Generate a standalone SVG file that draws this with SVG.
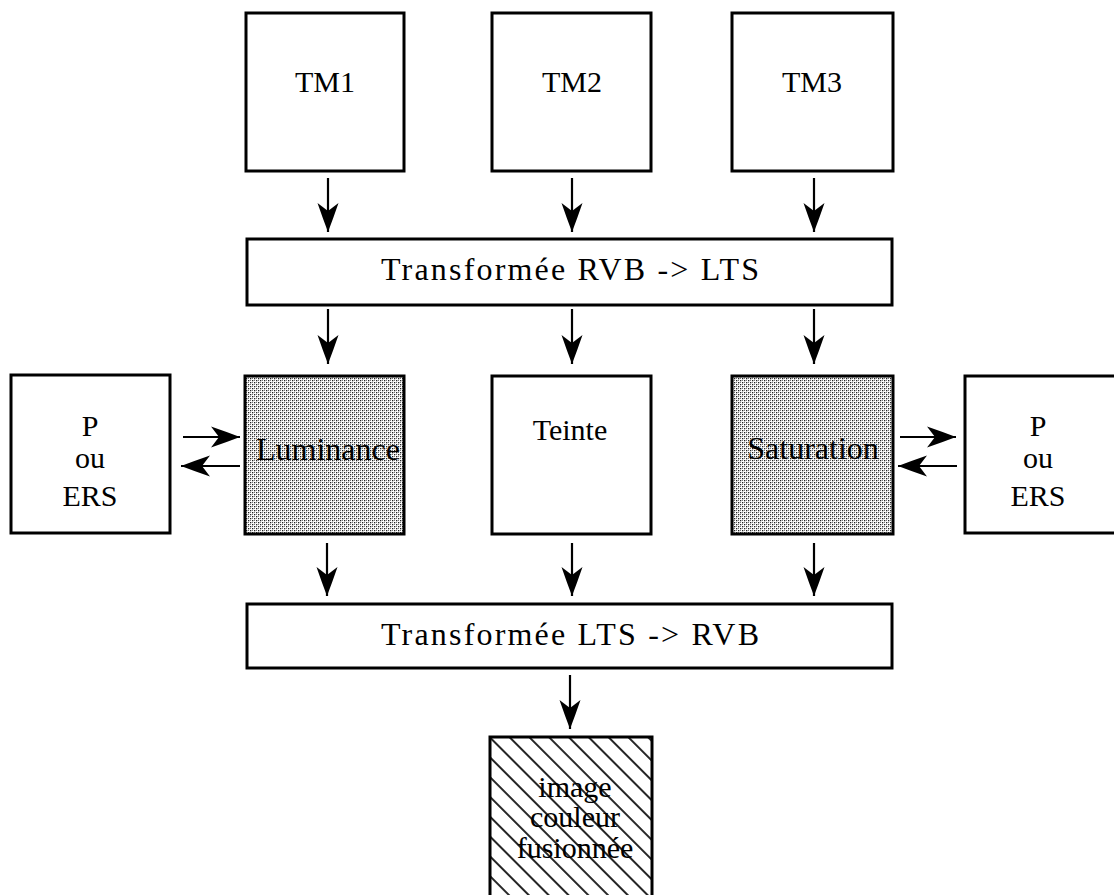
<svg xmlns="http://www.w3.org/2000/svg" width="1114" height="895" viewBox="0 0 1114 895">
<style>
.box{fill:#fff;stroke:#000;stroke-width:3}
.t{font-family:"Liberation Serif","Times New Roman",serif;font-size:30px;fill:#000;text-anchor:middle}
.b{font-size:32px}
.c{stroke:#000;stroke-width:2.2;fill:none}
</style>
<defs>
<pattern id="dots" width="4" height="4" patternUnits="userSpaceOnUse">
<rect width="4" height="4" fill="#fff"/>
<rect x="0" y="0" width="1.3" height="1.3" fill="#222"/>
<rect x="2" y="2" width="1.3" height="1.3" fill="#222"/>
<rect x="2" y="0" width="1" height="1" fill="#777"/>
<rect x="0" y="2" width="1" height="1" fill="#777"/>
</pattern>
<pattern id="hatch" width="14" height="14" patternUnits="userSpaceOnUse" patternTransform="rotate(-45)">
<rect width="14" height="14" fill="#fff"/>
<line x1="7" y1="0" x2="7" y2="14" stroke="#000" stroke-width="1.7"/>
</pattern>
<marker id="ah" markerUnits="userSpaceOnUse" markerWidth="32" markerHeight="24" refX="30" refY="12" orient="auto" viewBox="0 0 32 24">
<path d="M30,12 Q17,7 1,1.5 L9,12 L1,22.5 Q17,17 30,12 Z" fill="#000"/>
</marker>
</defs>
<rect width="1114" height="895" fill="#fff"/>

<g id="tm1"><rect class="box" x="246" y="13" width="158" height="158"/><text class="t" x="325" y="92">TM1</text></g>
<g id="tm2"><rect class="box" x="492" y="13" width="159" height="158"/><text class="t" x="572" y="92">TM2</text></g>
<g id="tm3"><rect class="box" x="732" y="13" width="161" height="158"/><text class="t" x="812" y="92">TM3</text></g>

<g id="rvb2lts"><rect class="box" x="247" y="239" width="645" height="66"/><text class="t b" x="570" y="280" textLength="378" lengthAdjust="spacing">Transformée RVB -&gt; LTS</text></g>

<g id="p1"><rect class="box" x="11" y="375" width="159" height="158"/><text class="t" x="90" y="436">P</text><text class="t" x="90" y="468">ou</text><text class="t" x="90" y="506">ERS</text></g>
<g id="luminance"><rect class="box" x="245" y="376" width="159" height="158" style="fill:url(#dots)"/><text class="t b" x="328" y="460">Luminance</text></g>
<g id="teinte"><rect class="box" x="492" y="376" width="159" height="158"/><text class="t" x="570" y="440">Teinte</text></g>
<g id="saturation"><rect class="box" x="732" y="376" width="161" height="158" style="fill:url(#dots)"/><text class="t b" x="813" y="459">Saturation</text></g>
<g id="p2"><rect class="box" x="965" y="376" width="160" height="157"/><text class="t" x="1038" y="436">P</text><text class="t" x="1038" y="468">ou</text><text class="t" x="1038" y="506">ERS</text></g>

<g id="lts2rvb"><rect class="box" x="247" y="604" width="645" height="64"/><text class="t b" x="570" y="645" textLength="378" lengthAdjust="spacing">Transformée LTS -&gt; RVB</text></g>

<g id="fusion"><rect class="box" x="490" y="737" width="162" height="170" style="fill:url(#hatch)"/><text class="t" x="575" y="797">image</text><text class="t" x="575" y="827">couleur</text><text class="t" x="575" y="858">fusionnée</text></g>

<g id="connectors">
<line class="c" x1="328" y1="178" x2="328" y2="232" marker-end="url(#ah)"/>
<line class="c" x1="572" y1="178" x2="572" y2="232" marker-end="url(#ah)"/>
<line class="c" x1="814" y1="178" x2="814" y2="232" marker-end="url(#ah)"/>
<line class="c" x1="328" y1="309" x2="328" y2="364" marker-end="url(#ah)"/>
<line class="c" x1="572" y1="309" x2="572" y2="364" marker-end="url(#ah)"/>
<line class="c" x1="814" y1="309" x2="814" y2="364" marker-end="url(#ah)"/>
<line class="c" x1="327" y1="543" x2="327" y2="596" marker-end="url(#ah)"/>
<line class="c" x1="572" y1="543" x2="572" y2="596" marker-end="url(#ah)"/>
<line class="c" x1="814" y1="543" x2="814" y2="596" marker-end="url(#ah)"/>
<line class="c" x1="570" y1="675" x2="570" y2="729" marker-end="url(#ah)"/>
<line class="c" x1="183" y1="437" x2="240" y2="437" marker-end="url(#ah)"/>
<line class="c" x1="240" y1="466" x2="181" y2="466" marker-end="url(#ah)"/>
<line class="c" x1="900" y1="437" x2="956" y2="437" marker-end="url(#ah)"/>
<line class="c" x1="957" y1="466" x2="898" y2="466" marker-end="url(#ah)"/>
</g>
</svg>
